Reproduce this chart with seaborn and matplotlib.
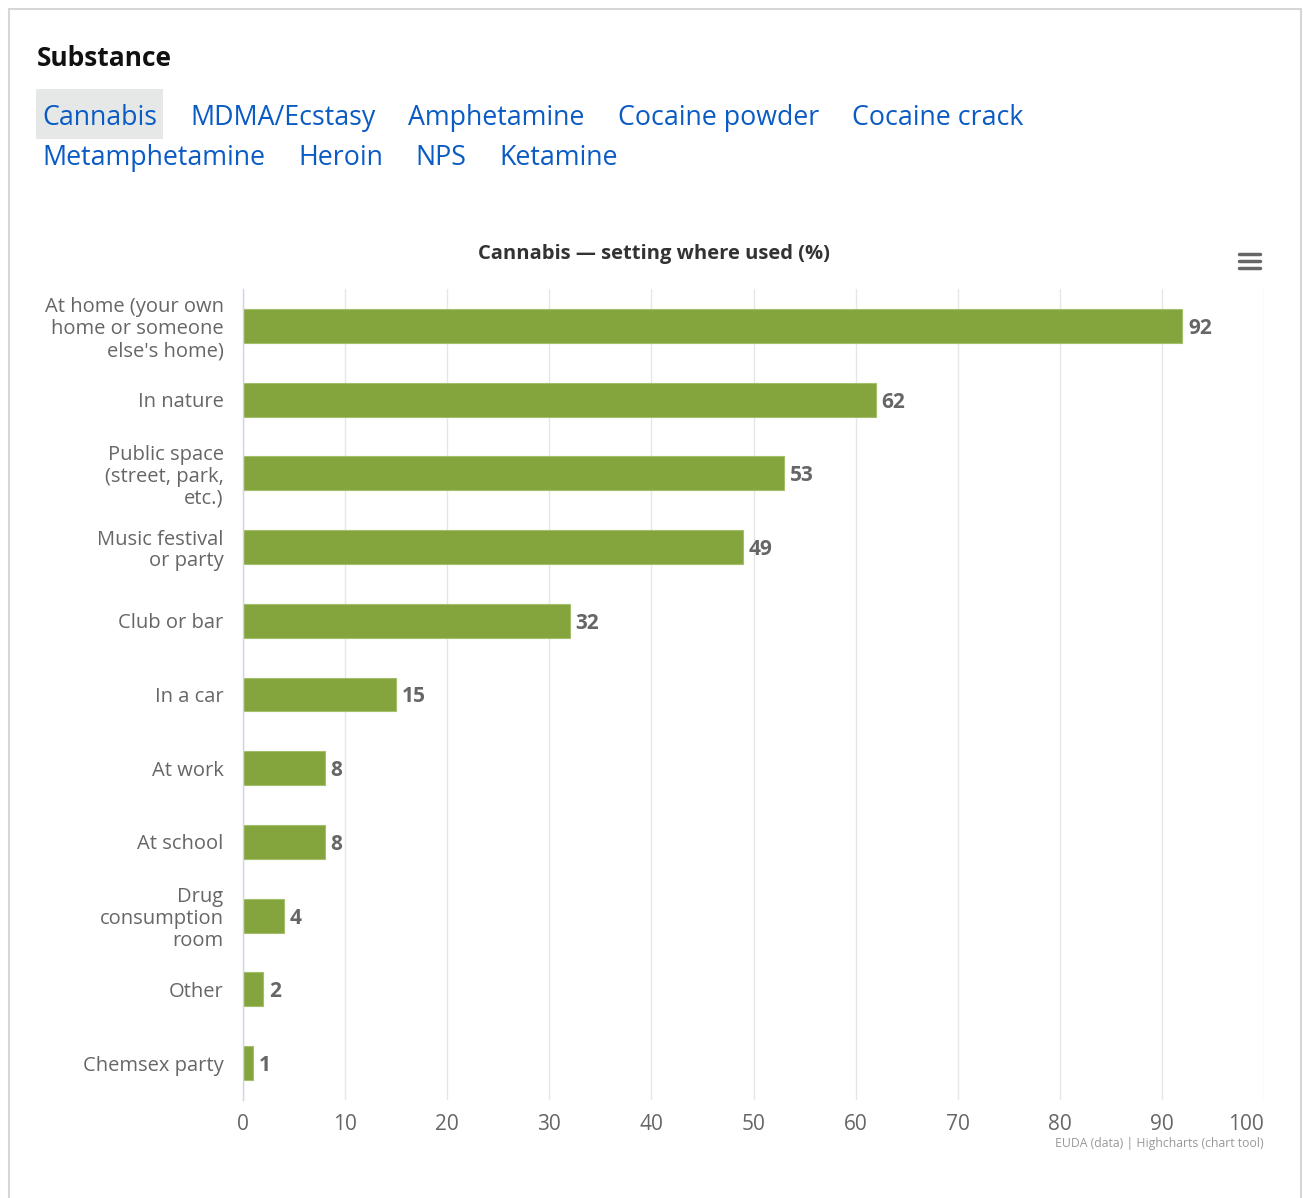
import matplotlib
matplotlib.use("Agg")
import matplotlib.pyplot as plt
import seaborn as sns
import pandas as pd
from matplotlib.patches import Rectangle
from matplotlib.lines import Line2D

settings = [
    "At home (your own\nhome or someone\nelse's home)",
    "In nature",
    "Public space\n(street, park,\netc.)",
    "Music festival\nor party",
    "Club or bar",
    "In a car",
    "At work",
    "At school",
    "Drug\nconsumption\nroom",
    "Other",
    "Chemsex party",
]
percent = [92, 62, 53, 49, 32, 15, 8, 8, 4, 2, 1]
x_ticks = [0, 10, 20, 30, 40, 50, 60, 70, 80, 90, 100]

substance_rows = [
    ["Cannabis", "MDMA/Ecstasy", "Amphetamine", "Cocaine powder", "Cocaine crack"],
    ["Metamphetamine", "Heroin", "NPS", "Ketamine"],
]
selected = "Cannabis"
chart_title = "Cannabis \u2014 setting where used (%)"
credits = "EUDA (data) | Highcharts (chart tool)"

df = pd.DataFrame({"setting": settings, "percent": percent})

sns.set_theme(style="white")
plt.rcParams["font.family"] = ["Open Sans", "DejaVu Sans"]

W, H = 1303, 1198
fig = plt.figure(figsize=(W / 100, H / 100), dpi=100)


def fx(px):
    return px / W


def fy(py):
    return 1 - py / H


# outer frame
fig.patches.append(Rectangle((fx(9), fy(1210)), fx(1292), 1201 / H, transform=fig.transFigure,
                             fill=False, edgecolor="#d6d6d6", linewidth=1.5))

fig.text(fx(37), fy(59), "Substance", fontsize=19, fontweight="bold", color="#111111", va="center")

# substance selector links
link_color = "#0a5bc4"
renderer = fig.canvas.get_renderer()
row_y = [118, 158]
for r, row in enumerate(substance_rows):
    x = 42
    for name in row:
        t = fig.text(fx(x), fy(row_y[r]), name, fontsize=19.3, color=link_color, va="center", ha="left")
        bb = t.get_window_extent(renderer=renderer)
        if name == selected:
            fig.patches.append(Rectangle((fx(x - 6), fy(row_y[r] + 21)), fx(bb.width + 12), 50 / H,
                                         transform=fig.transFigure, facecolor="#e6e7e7",
                                         edgecolor="none", zorder=0))
        x += bb.width + 33

ax = fig.add_axes([fx(243), fy(1100), fx(1264 - 243), (1100 - 289) / H])
sns.barplot(data=df, x="percent", y="setting", orient="h", color="#84a53d",
            width=0.46, saturation=1, edgecolor="#a4bf6c", linewidth=0.8, ax=ax)

ax.set_xlim(0, 100)
ax.set_xticks(x_ticks)
ax.set_xlabel("")
ax.set_ylabel("")
ax.grid(axis="x", color="#e6e6e6", linewidth=1)
ax.grid(axis="y", visible=False)
ax.set_axisbelow(True)
for side in ["top", "right", "bottom"]:
    ax.spines[side].set_visible(False)
ax.spines["left"].set_color("#ccd6eb")
ax.spines["left"].set_linewidth(1)
ax.tick_params(axis="x", length=0, pad=10, labelsize=15, labelcolor="#666666")
ax.tick_params(axis="y", length=0, pad=14, labelsize=14.5, labelcolor="#666666")
for lab in ax.get_yticklabels():
    lab.set_linespacing(1.12)
# last tick label stays inside the plot area, as in the original
ax.get_xticklabels()[-1].set_ha("right")

labels = ax.bar_label(ax.containers[0], padding=4, fontsize=15, fontweight="bold", color="#666666")
for t in labels:
    t.set_va("center_baseline")

fig.text(fx(654), fy(254), chart_title, fontsize=14.5, fontweight="bold", color="#333333",
         ha="center", va="center")

# hamburger menu
for yy in [254, 261, 268]:
    fig.lines.append(Line2D([fx(1239), fx(1260)], [fy(yy), fy(yy)], transform=fig.transFigure,
                            color="#666666", linewidth=2.5, solid_capstyle="round"))

fig.text(fx(1264), fy(1143), credits, fontsize=8.8, color="#999999", ha="right", va="center")

fig.savefig("out.png", dpi=100, facecolor="white")
